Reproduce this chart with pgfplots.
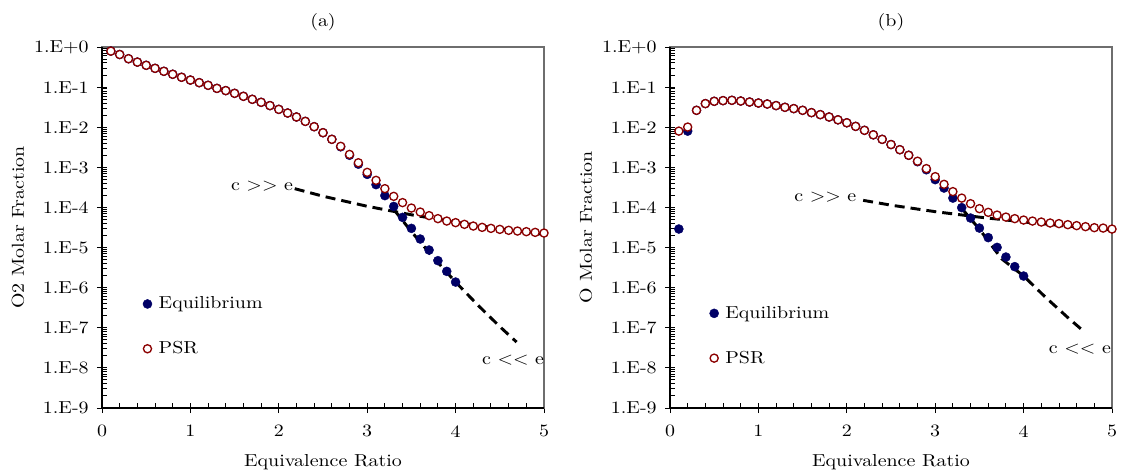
\documentclass[border=0pt]{standalone}
\usepackage{fontspec}
\setmainfont{lmroman10-regular.otf}[FakeStretch=1.15]
\usepackage{pgfplots}
\pgfplotsset{compat=1.18}
\definecolor{eqc}{RGB}{0,0,102}
\definecolor{psrc}{RGB}{139,0,0}
\definecolor{frm}{RGB}{110,110,110}
\newcommand{\fs}{\fontsize{13}{15.6}\selectfont}

\begin{document}
\begin{tikzpicture}
\useasboundingbox (-76.5pt,-49.5pt) rectangle (764.25pt,306pt);

% ---------------- (a) ----------------
\begin{axis}[
    scale only axis, width=331.5pt, height=270.75pt,
    xmin=0, xmax=5, ymode=log, ymin=1e-9, ymax=1,
    xtick={0,1,2,3,4,5}, xticklabels={0,1,2,3,4,5}, minor x tick num=4,
    ytick={1,1e-1,1e-2,1e-3,1e-4,1e-5,1e-6,1e-7,1e-8,1e-9},
    yticklabels={1.E+0,1.E-1,1.E-2,1.E-3,1.E-4,1.E-5,1.E-6,1.E-7,1.E-8,1.E-9},
    minor ytick={2e-9,3e-9,4e-9,5e-9,6e-9,7e-9,8e-9,9e-9,2e-8,3e-8,4e-8,5e-8,6e-8,7e-8,8e-8,9e-8,2e-7,3e-7,4e-7,5e-7,6e-7,7e-7,8e-7,9e-7,2e-6,3e-6,4e-6,5e-6,6e-6,7e-6,8e-6,9e-6,2e-5,3e-5,4e-5,5e-5,6e-5,7e-5,8e-5,9e-5,2e-4,3e-4,4e-4,5e-4,6e-4,7e-4,8e-4,9e-4,2e-3,3e-3,4e-3,5e-3,6e-3,7e-3,8e-3,9e-3,2e-2,3e-2,4e-2,5e-2,6e-2,7e-2,8e-2,9e-2,2e-1,3e-1,4e-1,5e-1,6e-1,7e-1,8e-1,9e-1},
    tick pos=left, tick align=inside,
    major tick length=7.5pt, minor tick length=4pt,
    every major x tick/.append style={yshift=-3.75pt},
    every major y tick/.append style={xshift=-3.75pt},
    tick style={black, line width=0.7pt},
    axis line style={draw=frm, line width=1pt},
    xticklabel style={font=\fs, yshift=-9.5pt},
    yticklabel style={font=\fs, xshift=-6.5pt},
    xlabel={Equivalence Ratio},
    ylabel={O2 Molar Fraction},
    xlabel style={font=\fs, at={(axis description cs:0.5,-0.1496)}, anchor=center},
    ylabel style={font=\fs, at={(axis description cs:-0.19,0.5)}, anchor=center},
    clip=false,
    legend cell align=left,
    legend style={at={(axis description cs:0.083,0.226)}, anchor=west, draw=none, fill=none, font=\fs, row sep=19pt, column sep=3pt},
]
\addplot[black, line width=2.2pt, dash pattern=on 7.5pt off 4.5pt, forget plot] coordinates {(2.18,2.94e-4) (2.5,1.905e-4) (3.0,1.069e-4) (3.5,6.56e-5) (4.0,4.30e-5) (4.5,2.96e-5) (5.0,2.12e-5)};
\addplot[black, line width=2.2pt, dash pattern=on 7.5pt off 4.5pt, forget plot] coordinates {(3.3,8.97e-5) (3.5,2.50e-5) (3.75,5.60e-6) (4.0,1.38e-6) (4.25,3.71e-7) (4.5,1.07e-7) (4.69,4.40e-8)};
\addplot[only marks, mark=*, mark size=3.4pt, color=eqc, mark options={fill=eqc, draw=eqc, line width=0.3pt}] coordinates {
(0.1,0.79) (0.2,0.65) (0.3,0.51) (0.4,0.42) (0.5,0.35) (0.6,0.294) (0.7,0.248) (0.8,0.209) (0.9,0.176) (1.0,0.150)
(1.1,0.129) (1.2,0.111) (1.3,0.093) (1.4,0.0818) (1.5,0.070) (1.6,0.059) (1.7,0.0497) (1.8,0.0418) (1.9,0.0346) (2.0,0.0279)
(2.1,0.0226) (2.2,0.0180) (2.3,0.0140) (2.4,0.0103) (2.5,0.0073) (2.6,0.0050) (2.7,0.00325) (2.8,0.0020) (2.9,0.0012) (3.0,6.68e-4)
(3.1,3.7e-4) (3.2,1.97e-4) (3.3,1.06e-4) (3.4,5.66e-5) (3.5,3.01e-5) (3.6,1.63e-5) (3.7,8.67e-6) (3.8,4.71e-6) (3.9,2.55e-6) (4.0,1.38e-6)};
\addlegendentry{Equilibrium}
\addplot[only marks, mark=*, mark size=3.05pt, color=psrc, mark options={fill=white, draw=psrc, line width=1pt}] coordinates {
(0.1,0.79) (0.2,0.65) (0.3,0.51) (0.4,0.42) (0.5,0.35) (0.6,0.294) (0.7,0.248) (0.8,0.209) (0.9,0.176) (1.0,0.150)
(1.1,0.129) (1.2,0.111) (1.3,0.093) (1.4,0.0818) (1.5,0.070) (1.6,0.059) (1.7,0.0497) (1.8,0.0418) (1.9,0.0346) (2.0,0.0279)
(2.1,0.0226) (2.2,0.0180) (2.3,0.0140) (2.4,0.0103) (2.5,0.0073) (2.6,0.0050) (2.7,0.00334) (2.8,0.0021) (2.9,0.0013) (3.0,7.5e-4)
(3.1,4.74e-4) (3.2,2.94e-4) (3.3,1.89e-4) (3.4,1.32e-4) (3.5,9.66e-5) (3.6,7.68e-5) (3.7,6.25e-5) (3.8,5.26e-5) (3.9,4.58e-5) (4.0,4.18e-5)
(4.1,3.79e-5) (4.2,3.44e-5) (4.3,3.19e-5) (4.4,3.01e-5) (4.5,2.84e-5) (4.6,2.69e-5) (4.7,2.58e-5) (4.8,2.49e-5) (4.9,2.39e-5) (5.0,2.30e-5)};
\addlegendentry{PSR}
\draw[black, line width=1.5pt] (rel axis cs:0,1) -- (rel axis cs:0,0) -- (rel axis cs:1,0);
\node[font=\fs] at (axis cs:1.81,3.36e-4) {c >\kern0pt> e};
\node[font=\fs] at (axis cs:4.65,1.54e-8) {c <\kern0pt< e};
\node[font=\fs] at (rel axis cs:0.5,1) [yshift=18.75pt] {(a)};
\end{axis}

% ---------------- (b) ----------------
\begin{axis}[at={(426pt,0pt)},
    scale only axis, width=331.5pt, height=270.75pt,
    xmin=0, xmax=5, ymode=log, ymin=1e-9, ymax=1,
    xtick={0,1,2,3,4,5}, xticklabels={0,1,2,3,4,5}, minor x tick num=4,
    ytick={1,1e-1,1e-2,1e-3,1e-4,1e-5,1e-6,1e-7,1e-8,1e-9},
    yticklabels={1.E+0,1.E-1,1.E-2,1.E-3,1.E-4,1.E-5,1.E-6,1.E-7,1.E-8,1.E-9},
    minor ytick={2e-9,3e-9,4e-9,5e-9,6e-9,7e-9,8e-9,9e-9,2e-8,3e-8,4e-8,5e-8,6e-8,7e-8,8e-8,9e-8,2e-7,3e-7,4e-7,5e-7,6e-7,7e-7,8e-7,9e-7,2e-6,3e-6,4e-6,5e-6,6e-6,7e-6,8e-6,9e-6,2e-5,3e-5,4e-5,5e-5,6e-5,7e-5,8e-5,9e-5,2e-4,3e-4,4e-4,5e-4,6e-4,7e-4,8e-4,9e-4,2e-3,3e-3,4e-3,5e-3,6e-3,7e-3,8e-3,9e-3,2e-2,3e-2,4e-2,5e-2,6e-2,7e-2,8e-2,9e-2,2e-1,3e-1,4e-1,5e-1,6e-1,7e-1,8e-1,9e-1},
    tick pos=left, tick align=inside,
    major tick length=7.5pt, minor tick length=4pt,
    every major x tick/.append style={yshift=-3.75pt},
    every major y tick/.append style={xshift=-3.75pt},
    tick style={black, line width=0.7pt},
    axis line style={draw=frm, line width=1pt},
    xticklabel style={font=\fs, yshift=-9.5pt},
    yticklabel style={font=\fs, xshift=-6.5pt},
    xlabel={Equivalence Ratio},
    ylabel={O Molar Fraction},
    xlabel style={font=\fs, at={(axis description cs:0.5,-0.1496)}, anchor=center},
    ylabel style={font=\fs, at={(axis description cs:-0.19,0.5)}, anchor=center},
    clip=false,
    legend cell align=left,
    legend style={at={(axis description cs:0.08,0.2)}, anchor=west, draw=none, fill=none, font=\fs, row sep=19pt, column sep=3pt},
]
\addplot[black, line width=2.2pt, dash pattern=on 7.5pt off 4.5pt, forget plot] coordinates {(2.185,1.503e-4) (2.5,1.140e-4) (3.0,7.85e-5) (3.5,5.73e-5) (4.0,4.36e-5) (4.5,3.42e-5) (5.0,2.75e-5)};
\addplot[black, line width=2.2pt, dash pattern=on 7.5pt off 4.5pt, forget plot] coordinates {(3.3,9.46e-5) (3.5,2.88e-5) (3.75,5.28e-6) (4.0,1.95e-6) (4.25,5.71e-7) (4.5,1.80e-7) (4.668,8.61e-8)};
\addplot[only marks, mark=*, mark size=3.4pt, color=eqc, mark options={fill=eqc, draw=eqc, line width=0.3pt}] coordinates {
(0.1,2.9e-5) (0.2,8.0e-3) (0.3,2.64e-2) (0.4,3.88e-2) (0.5,4.43e-2) (0.6,4.6e-2) (0.7,4.69e-2) (0.8,4.5e-2) (0.9,4.25e-2) (1.0,4.01e-2)
(1.1,3.79e-2) (1.2,3.46e-2) (1.3,3.14e-2) (1.4,2.91e-2) (1.5,2.64e-2) (1.6,2.31e-2) (1.7,2.06e-2) (1.8,1.80e-2) (1.9,1.53e-2) (2.0,1.29e-2)
(2.1,1.05e-2) (2.2,8.37e-3) (2.3,6.46e-3) (2.4,4.99e-3) (2.5,3.7e-3) (2.6,2.75e-3) (2.7,2.0e-3) (2.8,1.38e-3) (2.9,8.7e-4) (3.0,4.93e-4)
(3.1,3.05e-4) (3.2,1.71e-4) (3.3,9.89e-5) (3.4,5.44e-5) (3.5,3.06e-5) (3.6,1.77e-5) (3.7,1.01e-5) (3.8,5.8e-6) (3.9,3.34e-6) (4.0,1.95e-6)};
\addlegendentry{Equilibrium}
\addplot[only marks, mark=*, mark size=3.05pt, color=psrc, mark options={fill=white, draw=psrc, line width=1pt}] coordinates {
(0.1,8.0e-3) (0.2,1.01e-2) (0.3,2.64e-2) (0.4,3.88e-2) (0.5,4.43e-2) (0.6,4.6e-2) (0.7,4.69e-2) (0.8,4.5e-2) (0.9,4.25e-2) (1.0,4.01e-2)
(1.1,3.79e-2) (1.2,3.46e-2) (1.3,3.14e-2) (1.4,2.91e-2) (1.5,2.64e-2) (1.6,2.31e-2) (1.7,2.06e-2) (1.8,1.80e-2) (1.9,1.53e-2) (2.0,1.29e-2)
(2.1,1.05e-2) (2.2,8.37e-3) (2.3,6.46e-3) (2.4,4.99e-3) (2.5,3.7e-3) (2.6,2.75e-3) (2.7,2.0e-3) (2.8,1.42e-3) (2.9,9.3e-4) (3.0,5.86e-4)
(3.1,3.77e-4) (3.2,2.48e-4) (3.3,1.71e-4) (3.4,1.24e-4) (3.5,9.33e-5) (3.6,7.55e-5) (3.7,6.46e-5) (3.8,5.76e-5) (3.9,5.26e-5) (4.0,4.85e-5)
(4.1,4.58e-5) (4.2,4.33e-5) (4.3,4.09e-5) (4.4,3.95e-5) (4.5,3.72e-5) (4.6,3.52e-5) (4.7,3.32e-5) (4.8,3.13e-5) (4.9,3.06e-5) (5.0,2.89e-5)};
\addlegendentry{PSR}
\draw[black, line width=1.5pt] (rel axis cs:0,1) -- (rel axis cs:0,0) -- (rel axis cs:1,0);
\node[font=\fs] at (axis cs:1.757,1.79e-4) {c >\kern0pt> e};
\node[font=\fs] at (axis cs:4.637,2.9e-8) {c <\kern0pt< e};
\node[font=\fs] at (rel axis cs:0.5,1) [yshift=18.75pt] {(b)};
\end{axis}
\end{tikzpicture}
\end{document}
